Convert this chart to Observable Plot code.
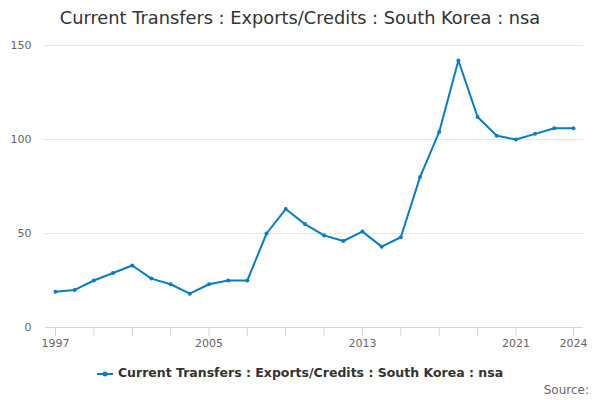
<!DOCTYPE html>
<html>
<head>
<meta charset="utf-8">
<script src="https://cdn.jsdelivr.net/npm/d3@7"></script>
<script src="https://cdn.jsdelivr.net/npm/@observablehq/plot@0.6"></script>
<style>
  body { margin: 0; background: #fff; font-family: "DejaVu Sans", sans-serif; }
  #wrap { width: 600px; height: 400px; position: relative; overflow: hidden; }
  #title { height: 36px; line-height: 36px; text-align: center; font-size: 17.8px; color: #333; }
  #legend { position: absolute; top: 365px; left: 0; width: 600px; text-align: center; font-size: 12.5px; font-weight: bold; color: #333; }
  #legend svg { vertical-align: middle; margin-right: 5px; }
  #source { position: absolute; top: 383px; right: 11px; font-size: 12px; color: #666; }
</style>
</head>
<body>
<div id="wrap">
  <div id="title">Current Transfers : Exports/Credits : South Korea : nsa</div>
  <div id="chart"></div>
  <div id="legend"><svg width="16" height="10"><line x1="0" y1="5" x2="16" y2="5" stroke="#0a7cc1" stroke-width="2"/><circle cx="8" cy="5" r="2.5" fill="#0a7cc1"/></svg>Current Transfers : Exports/Credits : South Korea : nsa</div>
  <div id="source">Source:</div>
</div>
<script>
const years = d3.range(1997, 2025)
const values = [19, 20, 25, 29, 33, 26, 23, 18, 23, 25, 25, 50, 63, 55, 49, 46, 51, 43, 48, 80, 104, 142, 112, 102, 100, 103, 106, 106]
const tickYears = [1997, 1999, 2001, 2003, 2005, 2007, 2009, 2011, 2013, 2015, 2017, 2019, 2021, 2024]
const labelYears = [1997, 2005, 2013, 2021, 2024]

const data = years.map((y, i) => ({year: y, value: values[i]}))
const color = '#0a7cc1'

let chart =
Plot.plot({
  width: 600,
  height: 314,
  marginTop: 9,
  marginBottom: 23,
  marginLeft: 45,
  marginRight: 17,
  style: {fontFamily: '"DejaVu Sans", sans-serif', fontSize: '11px'},
  x: {domain: [1997, 2024], inset: 10},
  y: {domain: [0, 150]},
  marks: [
    Plot.gridY([0, 50, 100, 150], {stroke: '#e6e6e6', strokeOpacity: 1}),
    Plot.ruleY([0], {stroke: '#ccd6eb'}),
    Plot.axisY([0, 50, 100, 150], {tickSize: 0, tickPadding: 14, fill: '#666', label: null}),
    Plot.axisX(tickYears, {
      tickSize: 9, tickPadding: 3, stroke: '#ccd6eb', strokeOpacity: 1, fill: '#666', label: null,
      tickFormat: d => labelYears.includes(d) ? String(d) : ''
    }),
    Plot.line(data, {x: 'year', y: 'value', stroke: color, strokeWidth: 2}),
    Plot.dot(data, {x: 'year', y: 'value', fill: color, r: 2})
  ]
})
d3.select('#chart').append(() => chart)
</script>
</body>
</html>
